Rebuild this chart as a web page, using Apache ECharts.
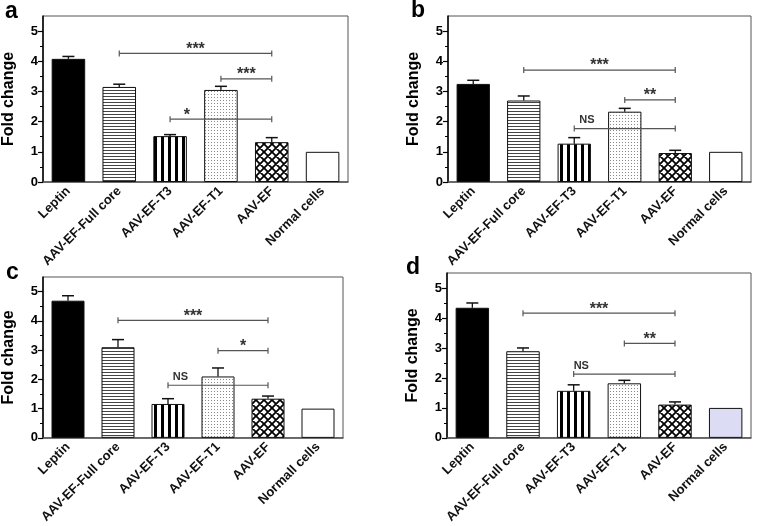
<!DOCTYPE html>
<html><head><meta charset="utf-8">
<script src="https://cdn.jsdelivr.net/npm/echarts@6/dist/echarts.min.js"></script>
<style>html,body{margin:0;padding:0;background:#fff}#c{width:757px;height:526px}</style>
</head><body><div id="c"></div>
<script>
// ---------- data ----------
const categories  = ['Leptin', 'AAV-EF-Full core', 'AAV-EF-T3', 'AAV-EF-T1', 'AAV-EF', 'Normal cells'];
const categoriesC = ['Leptin', 'AAV-EF-Full core', 'AAV-EF-T3', 'AAV-EF-T1', 'AAV-EF', 'Normall cells'];
const yTickValues = [0, 1, 2, 3, 4, 5];
const panelLetters = ['a', 'b', 'c', 'd'];
const yName = 'Fold change';

const meanA = [4.08, 3.15, 1.52, 3.05, 1.32, 1.00];
const errA  = [0.08, 0.09, 0.05, 0.12, 0.15, 0];
const meanB = [3.25, 2.70, 1.27, 2.33, 0.96, 1.00];
const errB  = [0.12, 0.15, 0.20, 0.11, 0.09, 0];
const meanC = [4.69, 3.10, 1.16, 2.10, 1.34, 1.00];
const errC  = [0.17, 0.26, 0.18, 0.29, 0.09, 0];
const meanD = [4.34, 2.89, 1.57, 1.82, 1.11, 1.00];
const errD  = [0.16, 0.11, 0.20, 0.10, 0.09, 0];

// significance brackets: [fromCategory, toCategory, yValue, label, labelPositionInCategoryUnits]
const sigA = [[1, 4, 4.26, '***', 2.5], [3, 4, 3.42, '***', 3.5], [2, 4, 2.08, '*', 2.33]];
const sigB = [[1, 4, 3.71, '***', 2.5], [3, 4, 2.72, '**', 3.5], [2, 4, 1.77, 'NS', 2.25]];
const sigC = [[1, 4, 4.02, '***', 2.5], [3, 4, 2.98, '*', 3.5], [2, 4, 1.80, 'NS', 2.25]];
const sigD = [[1, 4, 4.16, '***', 2.5], [3, 4, 3.15, '**', 3.5], [2, 4, 2.13, 'NS', 2.15]];

// ---------- styling ----------
const FONT = '"Liberation Sans", Arial, sans-serif';
const NARROW = '"Liberation Sans Narrow", "Liberation Sans", Arial, sans-serif';

function makeCanvas(w, h, draw) {
  const c = document.createElement('canvas');
  c.width = w; c.height = h;
  const ctx = c.getContext('2d');
  ctx.fillStyle = '#fff'; ctx.fillRect(0, 0, w, h);
  draw(ctx);
  return { image: c, repeat: 'repeat' };
}
const hStripes = makeCanvas(4, 3, ctx => { ctx.fillStyle = '#444'; ctx.fillRect(0, 0, 4, 1); });
const vStripes = makeCanvas(7, 4, ctx => { ctx.fillStyle = '#000'; ctx.fillRect(0, 0, 3, 4); });
const dots = makeCanvas(3, 3, ctx => { ctx.fillStyle = '#888'; ctx.fillRect(1, 1, 1, 1); });
const hatch = makeCanvas(8, 8, ctx => {
  ctx.strokeStyle = '#000'; ctx.lineWidth = 1.8;
  ctx.beginPath();
  ctx.moveTo(-2, -2); ctx.lineTo(10, 10);
  ctx.moveTo(10, -2); ctx.lineTo(-2, 10);
  ctx.moveTo(6, -2); ctx.lineTo(10, 2); ctx.moveTo(-2, 6); ctx.lineTo(2, 10);
  ctx.moveTo(2, -2); ctx.lineTo(-2, 2); ctx.moveTo(10, 6); ctx.lineTo(6, 10);
  ctx.stroke();
});

const panels = [
  { cats: categories,  mean: meanA, err: errA, sig: sigA, grid: { left: 42,  top: 16,  width: 306, height: 166 }, normal: '#ffffff', letter: [5, 0] },
  { cats: categories,  mean: meanB, err: errB, sig: sigB, grid: { left: 448, top: 16,  width: 303, height: 166 }, normal: '#ffffff', letter: [411, -1] },
  { cats: categoriesC, mean: meanC, err: errC, sig: sigC, grid: { left: 41,  top: 277, width: 302, height: 165 }, normal: '#ffffff', letter: [6, 261] },
  { cats: categories,  mean: meanD, err: errD, sig: sigD, grid: { left: 447, top: 273, width: 304, height: 167 }, normal: '#dcdcf5', letter: [406, 256] }
];

const grids = [], xAxes = [], yAxes = [], series = [], graphics = [];
panels.forEach((p, i) => {
  grids.push(Object.assign({ show: true, borderColor: '#555', borderWidth: 1, backgroundColor: 'transparent' }, p.grid));
  xAxes.push({
    gridIndex: i, type: 'category', data: p.cats,
    axisLine: { lineStyle: { color: '#555', width: 1.5 } },
    axisTick: { alignWithLabel: true, length: 5, lineStyle: { color: '#333', width: 1.2 } },
    axisLabel: { rotate: 45, interval: 0, fontSize: 13, fontWeight: 'bold', color: '#111', margin: 7, fontFamily: FONT },
    splitLine: { show: false }
  });
  yAxes.push({
    gridIndex: i, type: 'value', min: 0, max: 5.5, interval: 1,
    name: yName, nameLocation: 'middle', nameGap: 26, nameRotate: 90,
    nameTextStyle: { fontSize: 16, fontWeight: 'bold', color: '#000', fontFamily: NARROW },
    axisLine: { show: true, lineStyle: { color: '#000', width: 1.5 } },
    axisTick: { show: true, length: 5, customValues: yTickValues, lineStyle: { color: '#000', width: 1.2 } },
    minorTick: { show: true, splitNumber: 2, length: 3, lineStyle: { color: '#000', width: 1 } },
    axisLabel: { customValues: yTickValues, fontSize: 13, fontWeight: 'bold', color: '#000', margin: 5, fontFamily: FONT },
    splitLine: { show: false }
  });
  const fills = ['#000000', hStripes, vStripes, dots, hatch, p.normal];
  series.push({
    type: 'bar', xAxisIndex: i, yAxisIndex: i, barWidth: '66%', silent: true,
    data: p.mean.map((v, j) => ({ value: v, itemStyle: { color: fills[j], borderColor: '#111', borderWidth: 1 } }))
  });
  series.push({
    type: 'custom', xAxisIndex: i, yAxisIndex: i, silent: true, z: 5,
    encode: { x: 0, y: 1 },
    data: p.mean.map((v, j) => [j, v, p.err[j]]),
    renderItem: function (params, api) {
      const e = api.value(2);
      if (!e) return null;
      const p0 = api.coord([api.value(0), api.value(1)]);
      const p1 = api.coord([api.value(0), api.value(1) + e]);
      const w = 6;
      return { type: 'group', children: [
        { type: 'line', shape: { x1: p0[0], y1: p0[1], x2: p1[0], y2: p1[1] }, style: { stroke: '#111', lineWidth: 1.3 } },
        { type: 'line', shape: { x1: p1[0] - w, y1: p1[1], x2: p1[0] + w, y2: p1[1] }, style: { stroke: '#111', lineWidth: 1.5 } }
      ] };
    }
  });
  const sig = p.sig;
  series.push({
    type: 'custom', xAxisIndex: i, yAxisIndex: i, silent: true, z: 6,
    encode: { x: [0, 1], y: 2 },
    data: sig.map(s => [s[0], s[1], s[2], s[4]]),
    renderItem: function (params, api) {
      const a = api.coord([api.value(0), api.value(2)]);
      const b = api.coord([api.value(1), api.value(2)]);
      const lp = api.value(3);
      const base = Math.floor(lp);
      const bx = api.coord([base, 0])[0];
      const bw = api.size([1, 0])[0];
      const lx = bx + (lp - base) * bw;
      const label = sig[params.dataIndex][3];
      const isNS = label === 'NS';
      const col = '#555';
      return { type: 'group', children: [
        { type: 'line', shape: { x1: a[0], y1: a[1], x2: b[0], y2: b[1] }, style: { stroke: col, lineWidth: 1.2 } },
        { type: 'line', shape: { x1: a[0], y1: a[1] - 3, x2: a[0], y2: a[1] + 3 }, style: { stroke: col, lineWidth: 1.2 } },
        { type: 'line', shape: { x1: b[0], y1: b[1] - 3, x2: b[0], y2: b[1] + 3 }, style: { stroke: col, lineWidth: 1.2 } },
        { type: 'text', style: {
            text: label, x: lx, y: isNS ? a[1] - 3 : a[1] - 12,
            align: 'center', verticalAlign: isNS ? 'bottom' : 'top',
            font: isNS ? 'bold 11px ' + FONT : 'bold 16px ' + FONT, fill: '#333' } }
      ] };
    }
  });
  graphics.push({ type: 'text', left: p.letter[0], top: p.letter[1],
    style: { text: panelLetters[i], font: 'bold 23px ' + FONT, fill: '#000' } });
});

const chart = echarts.init(document.getElementById('c'), null, { renderer: 'canvas' });
chart.setOption({
  animation: false,
  backgroundColor: '#fff',
  grid: grids, xAxis: xAxes, yAxis: yAxes, series: series, graphic: graphics
});
</script>
</body></html>
